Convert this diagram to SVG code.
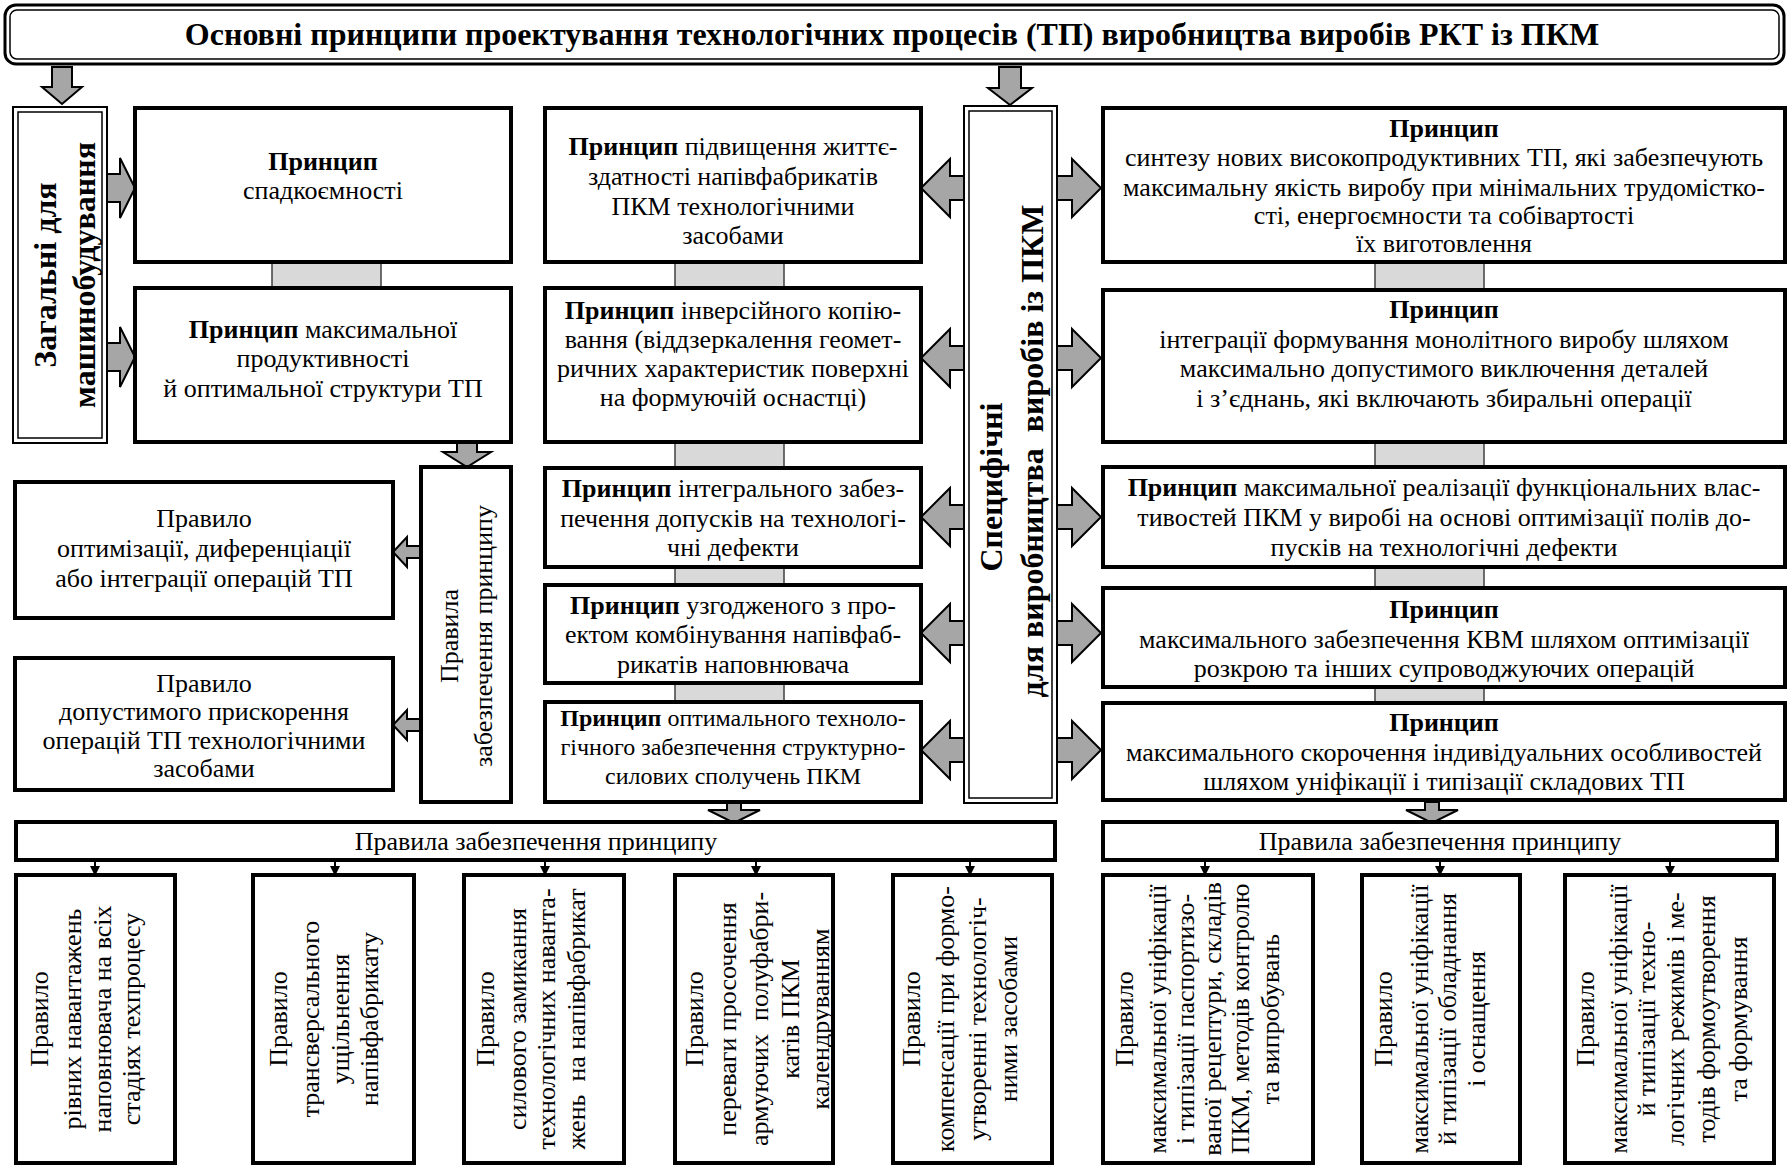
<svg xmlns="http://www.w3.org/2000/svg" width="1789" height="1166" viewBox="0 0 1789 1166">
<style>
.t{font-family:"Liberation Serif","Times New Roman",serif;font-size:26px;fill:#000;text-anchor:middle;dominant-baseline:central}
.s{font-size:24px}
.b{font-weight:bold}
.box{fill:#fff;stroke:#000;stroke-width:4}
.dbl{fill:#fff;stroke:#000;stroke-width:2}
.dbi{fill:none;stroke:#000;stroke-width:1.5}
.conn{fill:#d9d9d9;stroke:#404040;stroke-width:1.5}
.ba{fill:#a6a6a6;stroke:#000;stroke-width:2;stroke-linejoin:miter}
.ln{stroke:#000;stroke-width:2;fill:none}
.hd{fill:#000}
</style>
<rect width="1789" height="1166" fill="#fff"/>

<g id="title">
<rect x="5" y="5" width="1779" height="59" rx="11" class="dbl" style="stroke-width:3"/>
<rect x="10" y="10" width="1769" height="49" rx="7" class="dbi"/>
<text class="t b" x="892" y="34" style="font-size:32px">Основні принципи проектування технологічних процесів (ТП) виробництва виробів РКТ із ПКМ</text>
</g>

<g id="connectors">
<path class="ba" d="M52,67 H72 V87 H82 L62,104 L42,87 H52 Z"/>
<path class="ba" d="M999,67 H1021 V88 H1032 L1010,105 L988,88 H999 Z"/>
<path class="ba" d="M107,174 H120 V158 L135,188 L120,218 V202 H107 Z"/>
<path class="ba" d="M107,343 H120 V327 L135,357 L120,387 V371 H107 Z"/>
<path class="ba" d="M457,442 H477 V452 H491 L467,467 L443,452 H457 Z"/>
<path class="ba" d="M421,546 H407 V537 L393,552 L407,567 V558 H421 Z"/>
<path class="ba" d="M421,719 H407 V710 L393,725 L407,740 V731 H421 Z"/>
<path class="ba" d="M964,176 H950 V159 L921,188 L950,217 V200 H964 Z"/>
<path class="ba" d="M964,346 H950 V329 L921,358 L950,387 V370 H964 Z"/>
<path class="ba" d="M964,505 H950 V488 L921,517 L950,546 V529 H964 Z"/>
<path class="ba" d="M964,621 H950 V604 L921,633 L950,662 V645 H964 Z"/>
<path class="ba" d="M964,738 H950 V721 L921,750 L950,779 V762 H964 Z"/>
<path class="ba" d="M1057,176 H1072 V159 L1101,188 L1072,217 V200 H1057 Z"/>
<path class="ba" d="M1057,346 H1072 V329 L1101,358 L1072,387 V370 H1057 Z"/>
<path class="ba" d="M1057,505 H1072 V488 L1101,517 L1072,546 V529 H1057 Z"/>
<path class="ba" d="M1057,621 H1072 V604 L1101,633 L1072,662 V645 H1057 Z"/>
<path class="ba" d="M1057,738 H1072 V721 L1101,750 L1072,779 V762 H1057 Z"/>
<rect class="conn" x="272" y="262" width="109" height="26"/>
<rect class="conn" x="675" y="262" width="109" height="26"/>
<rect class="conn" x="675" y="442" width="109" height="26"/>
<rect class="conn" x="675" y="567" width="109" height="18"/>
<rect class="conn" x="675" y="683" width="109" height="19"/>
<rect class="conn" x="1375" y="262" width="109" height="28"/>
<rect class="conn" x="1375" y="442" width="109" height="25"/>
<rect class="conn" x="1375" y="567" width="109" height="21"/>
<rect class="conn" x="1375" y="687" width="109" height="16"/>
<path class="ba" d="M727,802 H741 V810 H760 L734,823 L708,810 H727 Z"/>
<path class="ba" d="M1425,802 H1439 V810 H1458 L1432,823 L1406,810 H1425 Z"/>
<path class="ln" d="M95,860 V867 M335,860 V867 M545,860 V867 M756,860 V867 M970,860 V867 M1205,860 V867 M1440,860 V867 M1670,860 V867"/>
<path class="hd" d="M90,866 H100 L95,876 Z M330,866 H340 L335,876 Z M540,866 H550 L545,876 Z M751,866 H761 L756,876 Z M965,866 H975 L970,876 Z M1200,866 H1210 L1205,876 Z M1435,866 H1445 L1440,876 Z M1665,866 H1675 L1670,876 Z"/>
</g>

<g id="general">
<rect x="13" y="107" width="94" height="336" class="dbl"/>
<rect x="18" y="112" width="84" height="326" class="dbi"/>
<text class="t b" style="font-size:32px" transform="translate(45,275) rotate(-90)"><tspan x="0" y="0">Загальні для</tspan><tspan x="0" y="39">машинобудування</tspan></text>
</g>

<g id="a1">
<rect x="135" y="108" width="376" height="154" class="box"/>
<text class="t"><tspan class="b" x="323" y="161">Принцип</tspan><tspan x="323" y="190">спадкоємності</tspan></text>
</g>
<g id="a2">
<rect x="135" y="288" width="376" height="154" class="box"/>
<text class="t"><tspan x="323" y="329"><tspan class="b">Принцип</tspan> максимальної</tspan><tspan x="323" y="358">продуктивності</tspan><tspan x="323" y="388">й оптимальної структури ТП</tspan></text>
</g>

<g id="rules-a">
<rect x="421" y="467" width="90" height="335" class="box"/>
<text class="t" transform="translate(449,636) rotate(-90)"><tspan x="0" y="0">Правила</tspan><tspan x="0" y="34">забезпечення принципу</tspan></text>
</g>
<g id="rule-a1">
<rect x="15" y="482" width="378" height="136" class="box"/>
<text class="t"><tspan x="204" y="518">Правило</tspan><tspan x="204" y="548">оптимізації, диференціації</tspan><tspan x="204" y="578">або інтеграції операцій ТП</tspan></text>
</g>
<g id="rule-a2">
<rect x="15" y="658" width="378" height="132" class="box"/>
<text class="t"><tspan x="204" y="683">Правило</tspan><tspan x="204" y="711">допустимого прискорення</tspan><tspan x="204" y="740">операцій ТП технологічними</tspan><tspan x="204" y="768">засобами</tspan></text>
</g>

<g id="b1">
<rect x="545" y="108" width="376" height="154" class="box"/>
<text class="t"><tspan x="733" y="146"><tspan class="b">Принцип</tspan> підвищення життє-</tspan><tspan x="733" y="176">здатності напівфабрикатів</tspan><tspan x="733" y="206">ПКМ технологічними</tspan><tspan x="733" y="235">засобами</tspan></text>
</g>
<g id="b2">
<rect x="545" y="288" width="376" height="154" class="box"/>
<text class="t"><tspan x="733" y="310"><tspan class="b">Принцип</tspan> інверсійного копію-</tspan><tspan x="733" y="339">вання (віддзеркалення геомет-</tspan><tspan x="733" y="368">ричних характеристик поверхні</tspan><tspan x="733" y="397">на формуючій оснастці)</tspan></text>
</g>
<g id="b3">
<rect x="545" y="468" width="376" height="99" class="box"/>
<text class="t"><tspan x="733" y="488"><tspan class="b">Принцип</tspan> інтегрального забез-</tspan><tspan x="733" y="518">печення допусків на технологі-</tspan><tspan x="733" y="547">чні дефекти</tspan></text>
</g>
<g id="b4">
<rect x="545" y="585" width="376" height="98" class="box"/>
<text class="t"><tspan x="733" y="605"><tspan class="b">Принцип</tspan> узгодженого з про-</tspan><tspan x="733" y="634">ектом комбінування напівфаб-</tspan><tspan x="733" y="664">рикатів наповнювача</tspan></text>
</g>
<g id="b5">
<rect x="545" y="702" width="376" height="100" class="box"/>
<text class="t s"><tspan x="733" y="718"><tspan class="b">Принцип</tspan> оптимального техноло-</tspan><tspan x="733" y="747">гічного забезпечення структурно-</tspan><tspan x="733" y="776">силових сполучень ПКМ</tspan></text>
</g>

<g id="specific">
<rect x="964" y="106" width="93" height="697" class="dbl"/>
<rect x="969" y="111" width="83" height="687" class="dbi"/>
<text class="t b" style="font-size:32px" transform="translate(991,0) rotate(-90)"><tspan x="-487" y="0">Специфічні</tspan><tspan x="-451" y="41" xml:space="preserve">для виробництва  виробів із ПКМ</tspan></text>
</g>

<g id="c1">
<rect x="1103" y="108" width="682" height="154" class="box"/>
<text class="t"><tspan class="b" x="1444" y="128">Принцип</tspan><tspan x="1444" y="157">синтезу нових високопродуктивних ТП, які забезпечують</tspan><tspan x="1444" y="187">максимальну якість виробу при мінімальних трудомістко-</tspan><tspan x="1444" y="215">сті, енергоємности та собівартості</tspan><tspan x="1444" y="243">їх виготовлення</tspan></text>
</g>
<g id="c2">
<rect x="1103" y="290" width="682" height="152" class="box"/>
<text class="t"><tspan class="b" x="1444" y="309">Принцип</tspan><tspan x="1444" y="339">інтеграції формування монолітного виробу шляхом</tspan><tspan x="1444" y="368">максимально допустимого виключення деталей</tspan><tspan x="1444" y="398">і з’єднань, які включають збиральні операції</tspan></text>
</g>
<g id="c3">
<rect x="1103" y="467" width="682" height="100" class="box"/>
<text class="t"><tspan x="1444" y="487"><tspan class="b">Принцип</tspan> максимальної реалізації функціональних влас-</tspan><tspan x="1444" y="517">тивостей ПКМ у виробі на основі оптимізації полів до-</tspan><tspan x="1444" y="547">пусків на технологічні дефекти</tspan></text>
</g>
<g id="c4">
<rect x="1103" y="588" width="682" height="99" class="box"/>
<text class="t"><tspan class="b" x="1444" y="609">Принцип</tspan><tspan x="1444" y="639">максимального забезпечення КВМ шляхом оптимізації</tspan><tspan x="1444" y="668">розкрою та інших супроводжуючих операцій</tspan></text>
</g>
<g id="c5">
<rect x="1103" y="703" width="682" height="97" class="box"/>
<text class="t"><tspan class="b" x="1444" y="722">Принцип</tspan><tspan x="1444" y="752">максимального скорочення індивідуальних особливостей</tspan><tspan x="1444" y="781">шляхом уніфікації і типізації складових ТП</tspan></text>
</g>

<g id="bar-left">
<rect x="16" y="822" width="1039" height="38" class="box"/>
<text class="t" x="536" y="841">Правила забезпечення принципу</text>
</g>
<g id="bar-right">
<rect x="1103" y="822" width="674" height="38" class="box"/>
<text class="t" x="1440" y="841">Правила забезпечення принципу</text>
</g>

<g id="l1">
<rect x="16" y="875" width="159" height="288" class="box"/>
<text class="t" transform="translate(0,1019) rotate(-90)"><tspan x="0" y="39">Правило</tspan><tspan x="0" y="72">рівних навантажень</tspan><tspan x="0" y="102">наповнювача на всіх</tspan><tspan x="0" y="131">стадіях техпроцесу</tspan></text>
</g>
<g id="l2">
<rect x="253" y="875" width="161" height="288" class="box"/>
<text class="t" transform="translate(0,1019) rotate(-90)"><tspan x="0" y="278">Правило</tspan><tspan x="0" y="310">трансверсального</tspan><tspan x="0" y="340">ущільнення</tspan><tspan x="0" y="369">напівфабрикату</tspan></text>
</g>
<g id="l3">
<rect x="464" y="875" width="160" height="288" class="box"/>
<text class="t" transform="translate(0,1019) rotate(-90)"><tspan x="0" y="485">Правило</tspan><tspan x="0" y="517">силового замикання</tspan><tspan x="0" y="546">технологічних наванта-</tspan><tspan x="0" y="576" xml:space="preserve">жень  на напівфабрикат</tspan></text>
</g>
<g id="l4">
<rect x="675" y="875" width="158" height="288" class="box"/>
<text class="t" transform="translate(0,1019) rotate(-90)"><tspan x="0" y="694">Правило</tspan><tspan x="0" y="727">переваги просочення</tspan><tspan x="0" y="759" xml:space="preserve">армуючих  полуфабри-</tspan><tspan x="0" y="790">катів ПКМ</tspan><tspan x="0" y="820">календруванням</tspan></text>
</g>
<g id="l5">
<rect x="893" y="875" width="159" height="288" class="box"/>
<text class="t" transform="translate(0,1019) rotate(-90)"><tspan x="0" y="911">Правило</tspan><tspan x="0" y="945">компенсації при формо-</tspan><tspan x="0" y="977">утворенні технологіч-</tspan><tspan x="0" y="1008">ними засобами</tspan></text>
</g>
<g id="r1">
<rect x="1103" y="875" width="210" height="288" class="box"/>
<text class="t" transform="translate(0,1019) rotate(-90)"><tspan x="0" y="1124">Правило</tspan><tspan x="0" y="1157">максимальної уніфікації</tspan><tspan x="0" y="1185">і типізації паспортизо-</tspan><tspan x="0" y="1212">ваної рецептури, складів</tspan><tspan x="0" y="1240">ПКМ, методів контролю</tspan><tspan x="0" y="1270">та випробувань</tspan></text>
</g>
<g id="r2">
<rect x="1362" y="875" width="158" height="288" class="box"/>
<text class="t" transform="translate(0,1019) rotate(-90)"><tspan x="0" y="1383">Правило</tspan><tspan x="0" y="1419">максимальної уніфікації</tspan><tspan x="0" y="1447">й типізації обладнання</tspan><tspan x="0" y="1476">і оснащення</tspan></text>
</g>
<g id="r3">
<rect x="1565" y="875" width="209" height="288" class="box"/>
<text class="t" transform="translate(0,1019) rotate(-90)"><tspan x="0" y="1585">Правило</tspan><tspan x="0" y="1618">максимальної уніфікації</tspan><tspan x="0" y="1646">й типізації техно-</tspan><tspan x="0" y="1675">логічних режимів і ме-</tspan><tspan x="0" y="1706">тодів формоутворення</tspan><tspan x="0" y="1738">та формування</tspan></text>
</g>
</svg>
